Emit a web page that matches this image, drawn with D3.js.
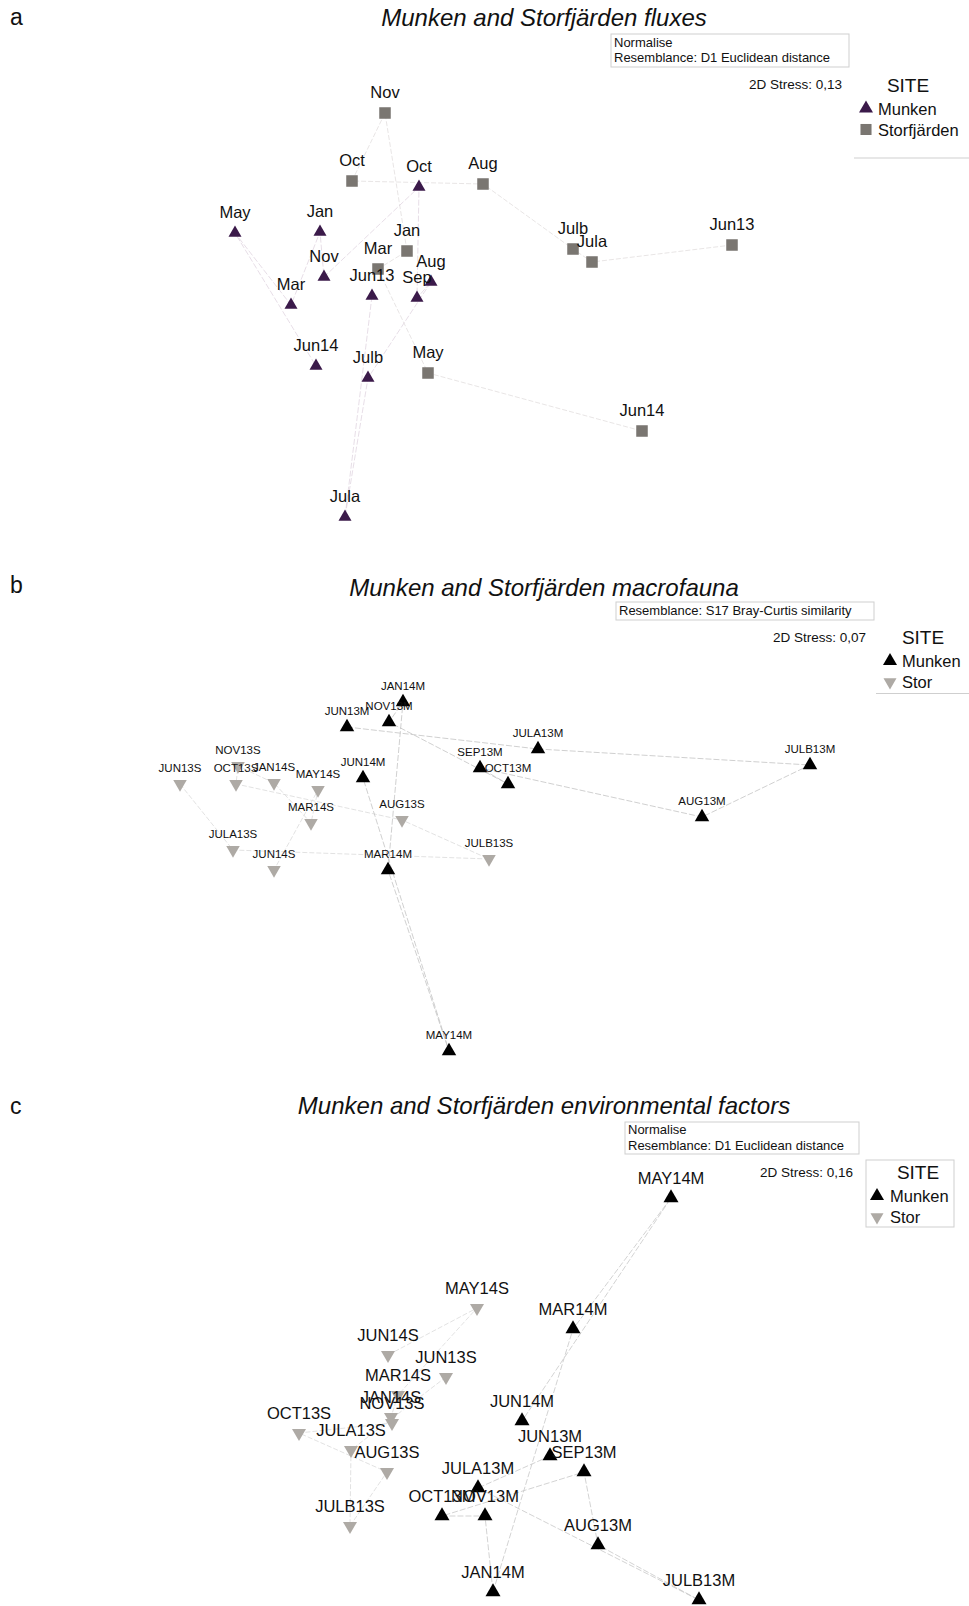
<!DOCTYPE html>
<html>
<head>
<meta charset="utf-8">
<script src="https://cdn.jsdelivr.net/npm/d3@7"></script>
<style>
  body { margin: 0; background: #fff; }
  text { font-family: "Liberation Sans", Arial, sans-serif; fill: #111; }
</style>
</head>
<body>
<script>
'use strict';

const W = 969, H = 1606

// panel a, fluxes (nMDS coordinates, in time order)
const aMunkenLabels = ["Jun13", "Jula", "Julb", "Aug", "Sep", "Oct", "Nov", "Jan", "Mar", "May", "Jun14"]
const aMunkenX = [-1.08, -1.35, -1.12, -0.49, -0.63, -0.61, -1.56, -1.60, -1.89, -2.45, -1.64]
const aMunkenY = [0.04, -2.17, -0.78, 0.18, 0.02, 1.13, 0.23, 0.68, -0.05, 0.67, -0.66]
const aStorLabels = ["Jun13", "Jula", "Julb", "Aug", "Oct", "Nov", "Jan", "Mar", "May", "Jun14"]
const aStorX = [2.52, 1.12, 0.93, 0.03, -1.28, -0.95, -0.73, -1.02, -0.52, 1.62]
const aStorY = [0.55, 0.38, 0.51, 1.16, 1.19, 1.87, 0.49, 0.31, -0.73, -1.31]

// panel b, macrofauna
const bMunkenLabels = ["JUN13M", "JULA13M", "JULB13M", "AUG13M", "SEP13M", "OCT13M", "NOV13M", "JAN14M", "MAR14M", "MAY14M", "JUN14M"]
const bMunkenX = [-1.33, 0.58, 3.30, 2.22, 0.00, 0.28, -0.91, -0.77, -0.92, -0.31, -1.17]
const bMunkenY = [0.93, 0.71, 0.55, 0.03, 0.52, 0.36, 0.98, 1.18, -0.50, -2.31, 0.42]
const bStorLabels = ["JUN13S", "JULA13S", "JULB13S", "AUG13S", "OCT13S", "NOV13S", "JAN14S", "MAR14S", "MAY14S", "JUN14S"]
const bStorX = [-3.00, -2.47, 0.09, -0.78, -2.44, -2.42, -2.06, -1.69, -1.62, -2.06]
const bStorY = [0.36, -0.30, -0.39, 0.00, 0.36, 0.54, 0.37, -0.03, 0.30, -0.50]

// panel c, environmental factors
const cMunkenLabels = bMunkenLabels
const cMunkenX = [0.70, -0.02, 2.19, 1.18, 1.04, -0.38, 0.05, 0.13, 0.93, 1.91, 0.42]
const cMunkenY = [-0.56, -0.88, -2.00, -1.45, -0.72, -1.16, -1.16, -1.92, 0.71, 2.02, -0.21]
const cStorLabels = bStorLabels
const cStorX = [-0.34, -1.29, -1.30, -0.93, -1.81, -0.88, -0.89, -0.82, -0.03, -0.92]
const cStorY = [0.23, -0.50, -1.26, -0.72, -0.33, -0.23, -0.17, 0.05, 0.92, 0.45]

const svg = d3.select('body')
  .append('svg')
  .attr('width', W)
  .attr('height', H)

function zip(labels, xs, ys) {
  return labels.map((l, i) => ({ label: l, x: xs[i], y: ys[i] }))
}

const panels = [
  {
    letter: "a", letterY: 25, title: "Munken and Storfjärden fluxes", titleY: 26, cy: 300,
    notes: ["Normalise", "Resemblance: D1 Euclidean distance"], noteBox: [611, 34, 238, 33], noteBase: [46.5, 61.5],
    stress: "2D Stress: 0,13", stressX: 842, stressY: 88.5,
    labelSize: 16.5, labelDy: -15,
    munken: zip(aMunkenLabels, aMunkenX, aMunkenY),
    stor: zip(aStorLabels, aStorX, aStorY),
    munkenColor: "#3b1a4a", storColor: "#7a7671", storShape: "square",
    munkenLine: "#dcd0dc", storLine: "#dedada", lineWidth: 0.7,
    markSize: 13,
    legend: { siteX: 908, siteY: 91.5, symX: 866, textX: 878, rows: [108.5, 129.5], names: ["Munken", "Storfjärden"],
      line: [854, 158] }
  },
  {
    letter: "b", letterY: 593, title: "Munken and Storfjärden macrofauna", titleY: 595.5, cy: 820,
    notes: ["Resemblance: S17 Bray-Curtis similarity"], noteBox: [616, 602, 258, 18], noteBase: [615],
    stress: "2D Stress: 0,07", stressX: 866, stressY: 641.5,
    labelSize: 11.5, labelDy: -12.5,
    munken: zip(bMunkenLabels, bMunkenX, bMunkenY),
    stor: zip(bStorLabels, bStorX, bStorY),
    munkenColor: "#000", storColor: "#aeaaa5", storShape: "down",
    munkenLine: "#c4c4c4", storLine: "#dadada", lineWidth: 0.8,
    markSize: 14.5,
    legend: { siteX: 923, siteY: 643.5, symX: 890, textX: 902, rows: [661, 682], names: ["Munken", "Stor"],
      line: [876, 693.5] }
  },
  {
    letter: "c", letterY: 1114, title: "Munken and Storfjärden environmental factors", titleY: 1114, cy: 1400,
    notes: ["Normalise", "Resemblance: D1 Euclidean distance"], noteBox: [625, 1122, 234, 32], noteBase: [1134, 1150],
    stress: "2D Stress: 0,16", stressX: 853, stressY: 1177,
    labelSize: 16.5, labelDy: -14.5,
    munken: zip(cMunkenLabels, cMunkenX, cMunkenY),
    stor: zip(cStorLabels, cStorX, cStorY),
    munkenColor: "#000", storColor: "#aeaaa5", storShape: "down",
    munkenLine: "#c8c8c8", storLine: "#dadada", lineWidth: 0.8,
    markSize: 15,
    legend: { siteX: 918, siteY: 1179, symX: 877, textX: 890, rows: [1196, 1217], names: ["Munken", "Stor"],
      box: [866, 1160, 88, 67] }
  }
]

function symbolPath(shape, w) {
  if (shape === "square") return d3.symbol().type(d3.symbolSquare).size(w * w * 0.85)()
  return d3.symbol().type(d3.symbolTriangle).size(Math.sqrt(3) / 4 * w * w)()
}

function drawPanel(p) {
  const g = svg.append('g')

  let xScale = d3.scaleLinear().domain([-1, 1]).range([380, 580])
  let yScale = d3.scaleLinear().domain([-1, 1]).range([p.cy + 100, p.cy - 100])

  g.append('text')
    .attr('x', 10)
    .attr('y', p.letterY)
    .style('font-size', '23px')
    .text(p.letter)

  g.append('text')
    .attr('x', 544)
    .attr('y', p.titleY)
    .attr('text-anchor', 'middle')
    .style('font-size', '24px')
    .style('font-style', 'italic')
    .text(p.title)

  // resemblance box
  g.append('rect')
    .attr('x', p.noteBox[0])
    .attr('y', p.noteBox[1])
    .attr('width', p.noteBox[2])
    .attr('height', p.noteBox[3])
    .style('fill', 'none')
    .style('stroke', '#cfcfcf')
    .style('stroke-width', 1)
  p.notes.forEach((n, i) => {
    g.append('text')
      .attr('x', p.noteBox[0] + 3)
      .attr('y', p.noteBase[i])
      .style('font-size', '13px')
      .text(n)
  })

  g.append('text')
    .attr('x', p.stressX)
    .attr('y', p.stressY)
    .attr('text-anchor', 'end')
    .style('font-size', '13.5px')
    .text(p.stress)

  // trajectories
  let line = d3.line()
    .x((d) => xScale(d.x))
    .y((d) => yScale(d.y))

  g.append('path')
    .datum(p.stor)
    .attr('d', line)
    .style('fill', 'none')
    .style('stroke', p.storLine)
    .style('stroke-width', p.lineWidth)
    .style('stroke-dasharray', '5,2')

  g.append('path')
    .datum(p.munken)
    .attr('d', line)
    .style('fill', 'none')
    .style('stroke', p.munkenLine)
    .style('stroke-width', p.lineWidth)
    .style('stroke-dasharray', '6,2')

  // markers
  const storPath = symbolPath(p.storShape, p.storShape === "square" ? 12.5 : p.markSize - 1)
  g.selectAll('.stor')
    .data(p.stor)
    .enter()
    .append('path')
      .attr('class', 'stor')
      .attr('d', storPath)
      .attr('transform', (d) => 'translate(' + xScale(d.x) + ',' + yScale(d.y) + ')' + (p.storShape === "down" ? 'rotate(180)' : ''))
      .style('fill', p.storColor)

  const munPath = symbolPath("up", p.markSize)
  g.selectAll('.mun')
    .data(p.munken)
    .enter()
    .append('path')
      .attr('class', 'mun')
      .attr('d', munPath)
      .attr('transform', (d) => 'translate(' + xScale(d.x) + ',' + yScale(d.y) + ')')
      .style('fill', p.munkenColor)

  // sample labels
  g.selectAll('.lab')
    .data(p.stor.concat(p.munken))
    .enter()
    .append('text')
      .attr('class', 'lab')
      .attr('x', (d) => xScale(d.x))
      .attr('y', (d) => yScale(d.y) + p.labelDy)
      .attr('text-anchor', 'middle')
      .style('font-size', p.labelSize + 'px')
      .text((d) => d.label)

  // legend
  const L = p.legend
  if (L.box) {
    g.append('rect')
      .attr('x', L.box[0]).attr('y', L.box[1])
      .attr('width', L.box[2]).attr('height', L.box[3])
      .style('fill', 'none').style('stroke', '#cfcfcf')
  }
  if (L.line) {
    g.append('line')
      .attr('x1', L.line[0]).attr('x2', W)
      .attr('y1', L.line[1]).attr('y2', L.line[1])
      .style('stroke', '#cfcfcf')
  }
  g.append('text')
    .attr('x', L.siteX)
    .attr('y', L.siteY)
    .attr('text-anchor', 'middle')
    .style('font-size', '19px')
    .text("SITE")

  g.append('path')
    .attr('d', symbolPath("up", 14))
    .attr('transform', 'translate(' + L.symX + ',' + L.rows[0] + ')')
    .style('fill', p.munkenColor)
  g.append('path')
    .attr('d', p.storShape === "square" ? symbolPath("square", 12) : symbolPath("up", 13))
    .attr('transform', 'translate(' + L.symX + ',' + L.rows[1] + ')' + (p.storShape === "down" ? 'rotate(180)' : ''))
    .style('fill', p.storColor)

  L.names.forEach((n, i) => {
    g.append('text')
      .attr('x', L.textX)
      .attr('y', L.rows[i] + 6)
      .style('font-size', '16.5px')
      .text(n)
  })
}

panels.forEach(drawPanel)
</script>
</body>
</html>
